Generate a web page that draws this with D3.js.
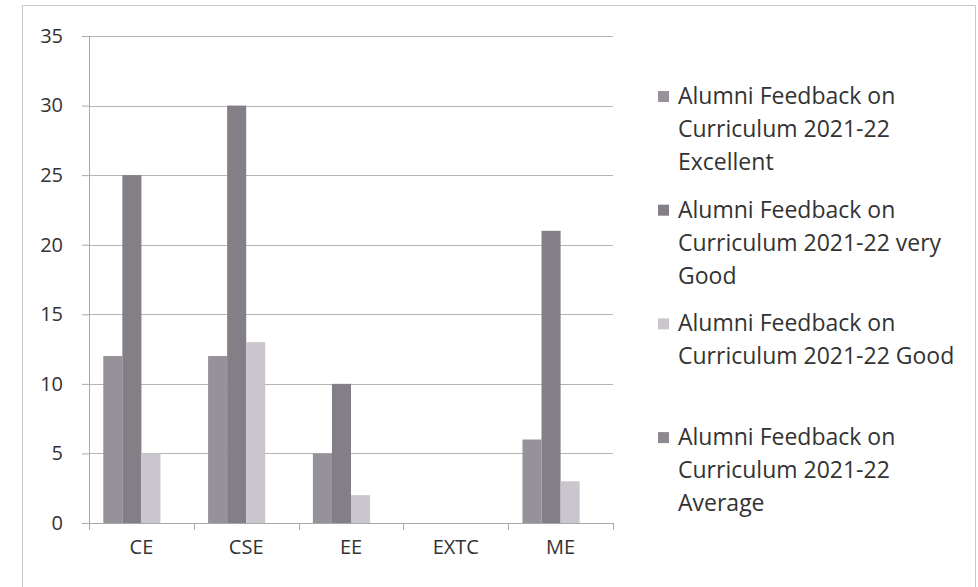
<!DOCTYPE html>
<html>
<head>
<meta charset="utf-8">
<script src="https://cdn.jsdelivr.net/npm/d3@7"></script>
<style>
  html, body { margin: 0; padding: 0; background: #fff; overflow: hidden; }
  svg { display: block; }
  text { font-family: "Open Sans", Lato, sans-serif; fill: #333; }
</style>
</head>
<body>
<svg id="chart"></svg>
<script>
const width = 978;
const height = 587;

// data
const categories = ["CE", "CSE", "EE", "EXTC", "ME"];
const seriesNames = [
  ["Alumni Feedback on", "Curriculum 2021-22", "Excellent"],
  ["Alumni Feedback on", "Curriculum 2021-22 very", "Good"],
  ["Alumni Feedback on", "Curriculum 2021-22 Good"],
  ["Alumni Feedback on", "Curriculum 2021-22", "Average"]
];
const excellent = [12, 12, 5, 0, 6];
const veryGood = [25, 30, 10, 0, 21];
const good = [5, 13, 2, 0, 3];
const average = [0, 0, 0, 0, 0];
const yTicks = [0, 5, 10, 15, 20, 25, 30, 35];

const series = [excellent, veryGood, good, average];
const colors = ["#97929a", "#847e86", "#cbc6cd", "#8e8990"];

const margin = { top: 36, left: 89, right: 365, bottom: 64 };
const innerWidth = width - margin.left - margin.right;
const innerHeight = height - margin.top - margin.bottom;

const svg = d3.select("#chart")
  .attr("width", width)
  .attr("height", height);

// outer frame (bottom edge is off the picture)
svg.append("path")
  .attr("d", "M22.5,587V5.5H975.5V587")
  .attr("fill", "none")
  .attr("stroke", "#c8c8c8");

const graph = svg.append("g")
  .attr("transform", `translate(${margin.left}, ${margin.top})`);

const x0 = d3.scaleBand()
  .domain(categories)
  .range([0, innerWidth]);

// 4 bars + 150% gap
const x1 = d3.scaleBand()
  .domain(d3.range(series.length))
  .range([0, x0.bandwidth()])
  .paddingOuter(0.75)
  .paddingInner(0);

const y = d3.scaleLinear()
  .domain([0, 35])
  .range([innerHeight, 0]);

// gridlines
graph.append("g")
  .selectAll("line")
  .data(yTicks.slice(1))
  .join("line")
  .attr("x1", 0).attr("x2", innerWidth)
  .attr("y1", d => Math.round(y(d)) + 0.5)
  .attr("y2", d => Math.round(y(d)) + 0.5)
  .attr("stroke", "#b4b4b4");

// bars
const rows = categories.map((c, i) => ({ cat: c, vals: series.map(s => s[i]) }));

graph.selectAll(".grp")
  .data(rows)
  .join("g")
  .attr("class", "grp")
  .attr("transform", d => `translate(${x0(d.cat)}, 0)`)
  .selectAll("rect")
  .data(d => d.vals.map((v, k) => ({ v, k })))
  .join("rect")
  .attr("x", d => x1(d.k))
  .attr("width", x1.bandwidth())
  .attr("y", d => y(d.v))
  .attr("height", d => innerHeight - y(d.v))
  .attr("fill", d => colors[d.k]);

// y axis
const yAxis = graph.append("g")
  .call(d3.axisLeft(y).tickValues(yTicks).tickSize(7).tickPadding(19));
yAxis.select(".domain").attr("stroke", "#a8a8a8").attr("d", `M0.5,${innerHeight}V0`);
yAxis.selectAll(".tick line").attr("stroke", "#a8a8a8");
yAxis.selectAll("text").style("font-size", "20px").attr("fill", "#333");

// x axis
const xAxis = graph.append("g")
  .attr("transform", `translate(0, ${innerHeight})`)
  .call(d3.axisBottom(x0).tickSize(0).tickPadding(17));
xAxis.select(".domain").attr("stroke", "#a8a8a8").attr("d", `M0,0.5H${innerWidth}`);
xAxis.selectAll("text").style("font-size", "20px").attr("fill", "#333");

// category boundary ticks
graph.append("g")
  .selectAll("line")
  .data(categories.map(c => x0(c)).concat([innerWidth]))
  .join("line")
  .attr("x1", d => Math.round(d) + 0.5).attr("x2", d => Math.round(d) + 0.5)
  .attr("y1", innerHeight).attr("y2", innerHeight + 7)
  .attr("stroke", "#a8a8a8");

// legend
const legend = svg.append("g")
  .attr("transform", "translate(658, 96)");

const item = legend.selectAll("g")
  .data(seriesNames)
  .join("g")
  .attr("transform", (d, i) => `translate(0, ${i * 113.7})`);

item.append("rect")
  .attr("x", 0).attr("y", -5)
  .attr("width", 11).attr("height", 11)
  .attr("fill", (d, i) => colors[i]);

item.each(function (lines) {
  d3.select(this).selectAll("text")
    .data(lines)
    .join("text")
    .attr("x", 20)
    .attr("y", (d, j) => j * 33)
    .attr("dy", "0.35em")
    .style("font-size", "23px")
    .text(d => d);
});
</script>
</body>
</html>
